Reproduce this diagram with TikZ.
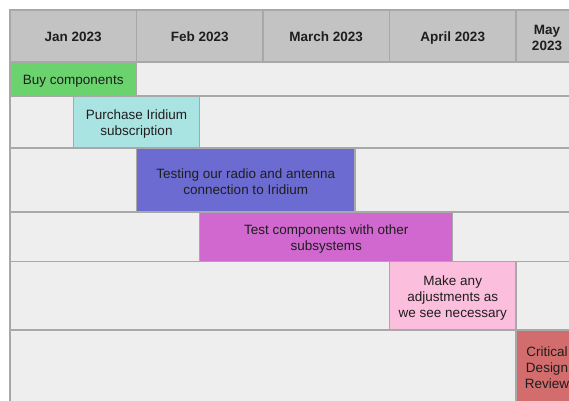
\documentclass[tikz,border=0pt]{standalone}
\usepackage{fontspec}
\setmainfont{Liberation Sans}
\definecolor{gridline}{RGB}{168,168,168}
\definecolor{headfill}{RGB}{195,195,195}
\definecolor{cellfill}{RGB}{238,238,238}
\definecolor{cgreen}{RGB}{106,211,110}
\definecolor{ccyan}{RGB}{170,228,226}
\definecolor{cblue}{RGB}{108,107,210}
\definecolor{cmagenta}{RGB}{209,104,207}
\definecolor{cpink}{RGB}{251,190,220}
\definecolor{cred}{RGB}{211,108,108}
\definecolor{textdark}{RGB}{30,30,30}
\tikzset{
  gridbox/.style={draw=gridline, line width=1.4pt},
  txt/.style={inner sep=0pt, align=center, text=textdark, yshift=-2pt, font=\fontsize{13.5}{16}\selectfont},
  headtxt/.style={txt, yshift=0.5pt, font=\fontsize{13.5}{16}\selectfont\bfseries},
  hsingle/.style={text height=10pt, text depth=3pt},
}
\newcommand{\cellbox}[7]{%
  \draw[gridbox, fill=#5] (#1,#2) rectangle (#3,#4);
  \node[txt] (#6) at ({(#1+#3)/2},{(#2+#4)/2}) {#7};}
\newcommand{\headbox}[6]{%
  \draw[gridbox, fill=headfill] (#1,#2) rectangle (#3,#4);
  \node[headtxt, hsingle] (#5) at ({(#1+#3)/2},{(#2+#4)/2}) {#6};}
\begin{document}
\begin{tikzpicture}[x=1pt,y=-1pt]
\useasboundingbox (0,0) rectangle (569,400);
\clip (0,0) rectangle (569,400);
\fill[white] (0,0) rectangle (569,400);
% header
\headbox{10}{10}{136.5}{62}{hjan}{Jan 2023}
\headbox{136.5}{10}{263}{62}{hfeb}{Feb 2023}
\headbox{263}{10}{389.5}{62}{hmar}{March 2023}
\headbox{389.5}{10}{516}{62}{hapr}{April 2023}
\draw[gridbox, fill=headfill] (516,10) rectangle (578,62);
\node[headtxt] (hmay) at (547,36) {May\\2023};
% row 1
\cellbox{10}{62}{136.5}{96}{cgreen}{buy}{Buy components}
\cellbox{136.5}{62}{578}{96}{cellfill}{r1b}{}
% row 2
\cellbox{10}{96}{73.25}{148}{cellfill}{r2a}{}
\cellbox{73.25}{96}{199.75}{148}{ccyan}{purchase}{Purchase Iridium\\subscription}
\cellbox{199.75}{96}{578}{148}{cellfill}{r2c}{}
% row 3
\cellbox{10}{148}{136.5}{212}{cellfill}{r3a}{}
\cellbox{136.5}{148}{355}{212}{cblue}{testing}{Testing our radio and antenna\\connection to Iridium}
\cellbox{355}{148}{578}{212}{cellfill}{r3c}{}
% row 4
\cellbox{10}{212}{199.75}{261.5}{cellfill}{r4a}{}
\cellbox{199.75}{212}{452.75}{261.5}{cmagenta}{testcomp}{Test components with other\\subsystems}
\cellbox{452.75}{212}{578}{261.5}{cellfill}{r4c}{}
% row 5
\cellbox{10}{261.5}{389.5}{330}{cellfill}{r5a}{}
\cellbox{389.5}{261.5}{516}{330}{cpink}{adjust}{Make any\\adjustments as\\we see necessary}
\cellbox{516}{261.5}{578}{330}{cellfill}{r5c}{}
% row 6
\cellbox{10}{330}{516}{430}{cellfill}{r6a}{}
\draw[gridbox, fill=cred] (516,330) rectangle (578,430);
\node[txt] (cdr) at (547,366) {Critical\\Design\\Review};
\end{tikzpicture}
\end{document}
